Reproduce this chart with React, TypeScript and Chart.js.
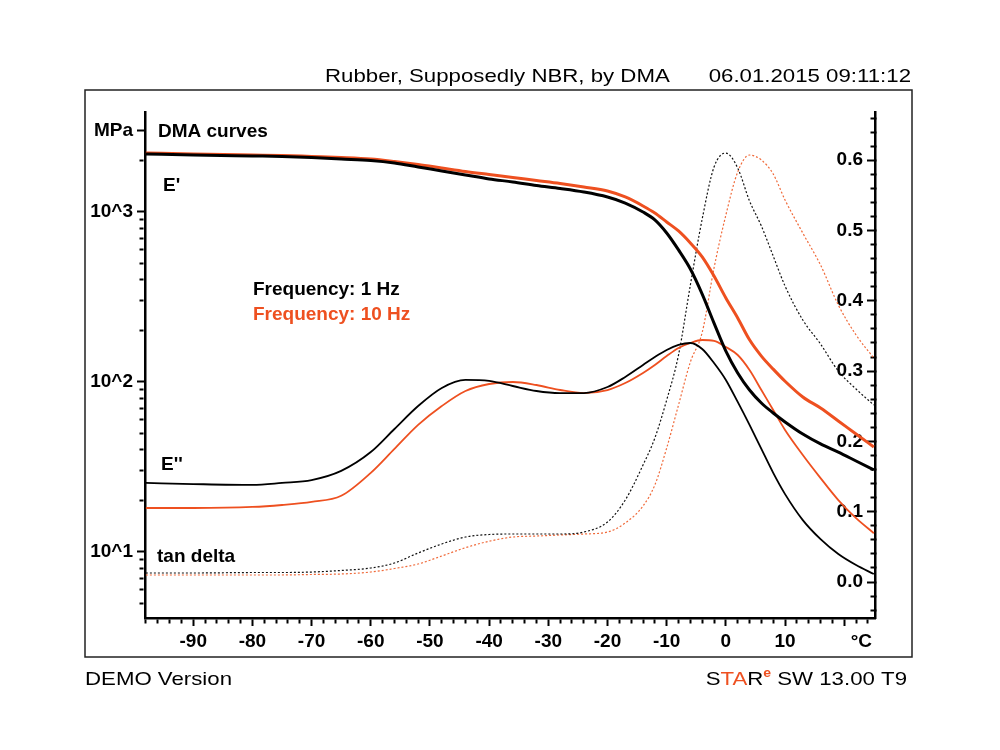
import React, { useEffect, useRef } from "react";
import { Chart, registerables } from "chart.js";

Chart.register(...registerables);

// ---------------- data ----------------
const temperatures = [
  -98, -90, -80, -75, -70, -65, -60, -56, -52, -48,
  -44, -40, -36, -32, -28, -24, -20, -17, -14, -12,
  -10, -8, -6, -4, -2, 0, 2, 4, 6, 8,
  10, 13, 16, 19, 22, 25,
];

// E' (MPa)
const eStorage1Hz = [
  2194, 2164, 2135, 2121, 2092, 2050, 2009, 1942, 1839, 1743,
  1651, 1564, 1502, 1432, 1375, 1311, 1225, 1129, 1000, 898,
  752, 598, 462, 329, 222, 152, 113, 89.7, 75.2, 65.7,
  58.2, 49.4, 43.2, 38.7, 34.3, 30.4,
];
const eStorage10Hz = [
  2224, 2194, 2164, 2150, 2121, 2092, 2050, 1982, 1903, 1815,
  1731, 1662, 1596, 1532, 1471, 1403, 1329, 1225, 1085, 986,
  873, 773, 657, 544, 420, 312, 238, 177, 142, 119,
  101, 81.6, 70.3, 59.0, 49.4, 41.5,
];

// E'' (MPa)
const eLoss1Hz = [
  25.5, 25.1, 24.8, 25.5, 26.5, 30.0, 38.7, 52.9, 72.2, 92.2,
  102.8, 101.4, 94.7, 88.5, 86.1, 86.1, 93.4, 107, 125.9, 140.3,
  154.3, 165.1, 169.6, 156.4, 129.3, 102.8, 76.3, 55.9, 40.4, 29.2,
  21.9, 15.4, 11.9, 9.73, 8.38, 7.42,
];
const eLoss10Hz = [
  18.15, 18.15, 18.4, 18.9, 19.7, 21.4, 29.2, 40.4, 55.9, 72.2,
  88.5, 97.3, 100, 96.0, 89.7, 86.1, 89.7, 98.6, 113, 125.9,
  142.2, 158.5, 169.6, 176.6, 174.3, 160.6, 144.1, 117.6, 89.7, 68.4,
  52.2, 37.2, 27.2, 20.2, 15.8, 12.9,
];

// tan delta
const tanDelta1Hz = [
  0.0128, 0.0128, 0.0135, 0.0135, 0.0142, 0.0164, 0.0199, 0.027, 0.0413, 0.0541,
  0.064, 0.0676, 0.0683, 0.0683, 0.0683, 0.0711, 0.0853, 0.1166, 0.1664, 0.2048,
  0.2589, 0.3229, 0.4225, 0.5164, 0.5903, 0.6102, 0.5889, 0.542, 0.5064, 0.4637,
  0.4211, 0.3727, 0.3385, 0.3001, 0.2745, 0.2518,
];
const tanDelta10Hz = [
  0.01, 0.01, 0.01, 0.01, 0.0107, 0.0114, 0.0142, 0.0192, 0.0256, 0.037,
  0.0488, 0.058, 0.064, 0.0654, 0.0669, 0.0683, 0.0711, 0.0839, 0.1081, 0.138,
  0.1906, 0.2518, 0.3129, 0.355, 0.4467, 0.522, 0.5832, 0.6074, 0.6003, 0.5804,
  0.5434, 0.4964, 0.4509, 0.394, 0.3514, 0.3186,
];

// ---------------- axes ----------------
const xLabelTicks = [-90, -80, -70, -60, -50, -40, -30, -20, -10, 0, 10];
const xMajorTicks = [-90, -80, -70, -60, -50, -40, -30, -20, -10, 0, 10, 20];
const xTickValues = [
  -98, -96, -94, -92, -90, -88, -86, -84, -82, -80, -78, -76, -74, -72, -70,
  -68, -66, -64, -62, -60, -58, -56, -54, -52, -50, -48, -46, -44, -42, -40,
  -38, -36, -34, -32, -30, -28, -26, -24, -22, -20, -18, -16, -14, -12, -10,
  -8, -6, -4, -2, 0, 2, 4, 6, 8, 10, 12, 14, 16, 18, 20, 22, 24,
];
const leftTickValues = [
  5, 6, 7, 8, 9, 10, 20, 30, 40, 50, 60, 70, 80, 90,
  100, 200, 300, 400, 500, 600, 700, 800, 900, 1000, 2000, 3000,
];
const leftMajorTicks = [10, 100, 1000, 3000];
const leftTickLabels: Record<number, string> = { 10: "10^1", 100: "10^2", 1000: "10^3", 3000: "MPa" };
const rightTickValues = [
  -0.04, -0.02, 0, 0.02, 0.04, 0.06, 0.08, 0.1, 0.12, 0.14, 0.16, 0.18, 0.2,
  0.22, 0.24, 0.26, 0.28, 0.3, 0.32, 0.34, 0.36, 0.38, 0.4, 0.42, 0.44, 0.46,
  0.48, 0.5, 0.52, 0.54, 0.56, 0.58, 0.6, 0.62, 0.64, 0.66,
];
const rightLabelTicks = [0, 0.1, 0.2, 0.3, 0.4, 0.5, 0.6];

const BLACK = "#000000";
const ORANGE = "#ee5020";
const FONT = "'Liberation Sans', Arial, Helvetica, sans-serif";
const STRETCH = 1.17;

function drawStretched(
  ctx: CanvasRenderingContext2D,
  text: string,
  x: number,
  y: number,
  font: string,
  color: string,
  sx: number,
  align: "left" | "right" = "left"
) {
  ctx.save();
  ctx.font = font;
  ctx.fillStyle = color;
  ctx.textBaseline = "alphabetic";
  ctx.textAlign = "left";
  const w = ctx.measureText(text).width * sx;
  const left = align === "right" ? x - w : x;
  ctx.translate(left, y);
  ctx.scale(sx, 1);
  ctx.fillText(text, 0, 0);
  ctx.restore();
  return w;
}

function measureStretched(ctx: CanvasRenderingContext2D, text: string, font: string, sx: number) {
  ctx.save();
  ctx.font = font;
  const w = ctx.measureText(text).width * sx;
  ctx.restore();
  return w;
}

const overlayPlugin = {
  id: "dmaOverlay",
  afterDraw(chart: any) {
    const ctx: CanvasRenderingContext2D = chart.ctx;
    ctx.save();
    ctx.strokeStyle = "#222";
    ctx.lineWidth = 1.5;
    ctx.strokeRect(85, 90, 827, 567);

    const reg = `19px ${FONT}`;
    const bold = `bold 19px ${FONT}`;

    drawStretched(ctx, "Rubber, Supposedly NBR, by DMA", 325, 82, reg, BLACK, STRETCH);
    drawStretched(ctx, "06.01.2015 09:11:12", 911, 82, reg, BLACK, STRETCH, "right");

    drawStretched(ctx, "DEMO Version", 85, 685, reg, BLACK, STRETCH);
    const parts: [string, string, string, number][] = [
      ["S", BLACK, reg, 0],
      ["TA", ORANGE, reg, 0],
      ["R", BLACK, reg, 0],
      ["e", ORANGE, `bold 12px ${FONT}`, -8],
      [" SW 13.00 T9", BLACK, reg, 0],
    ];
    let total = 0;
    for (const p of parts) total += measureStretched(ctx, p[0], p[2], STRETCH);
    let px = 907 - total;
    for (const p of parts) {
      px += drawStretched(ctx, p[0], px, 685 + p[3], p[2], p[1], STRETCH);
    }

    ctx.font = bold;
    ctx.textBaseline = "alphabetic";
    ctx.textAlign = "left";
    ctx.fillStyle = BLACK;
    ctx.fillText("DMA curves", 158, 137);
    ctx.fillText("E'", 163, 191);
    ctx.fillText("Frequency: 1 Hz", 253, 295);
    ctx.fillText("E''", 161, 470);
    ctx.fillText("tan delta", 157, 562);
    ctx.fillStyle = ORANGE;
    ctx.fillText("Frequency: 10 Hz", 253, 320);

    ctx.fillStyle = BLACK;
    ctx.textAlign = "right";
    ctx.fillText("°C", 872, 647);
    ctx.restore();
  },
};

export default function App() {
  const canvasRef = useRef<HTMLCanvasElement | null>(null);

  useEffect(() => {
    const canvas = canvasRef.current;
    if (!canvas) return;
    const pts = (ys: number[]) => temperatures.map((t, i) => ({ x: t, y: ys[i] }));
    const tickFont = { family: FONT, size: 19, weight: "bold" as const };

    const chart = new Chart(canvas, {
      type: "line",
      data: {
        datasets: [
          { label: "E' 1 Hz", data: pts(eStorage1Hz), yAxisID: "y", borderColor: BLACK, borderWidth: 3 },
          { label: "E' 10 Hz", data: pts(eStorage10Hz), yAxisID: "y", borderColor: ORANGE, borderWidth: 3 },
          { label: "E'' 1 Hz", data: pts(eLoss1Hz), yAxisID: "y", borderColor: BLACK, borderWidth: 1.8 },
          { label: "E'' 10 Hz", data: pts(eLoss10Hz), yAxisID: "y", borderColor: ORANGE, borderWidth: 1.8 },
          { label: "tan delta 1 Hz", data: pts(tanDelta1Hz), yAxisID: "y1", borderColor: "#111111", borderWidth: 1.2, borderDash: [2, 2] },
          { label: "tan delta 10 Hz", data: pts(tanDelta10Hz), yAxisID: "y1", borderColor: "#f06a3a", borderWidth: 1.2, borderDash: [2, 2] },
        ],
      },
      options: {
        animation: false,
        responsive: false,
        maintainAspectRatio: false,
        elements: {
          point: { radius: 0 },
          line: { cubicInterpolationMode: "monotone", fill: false },
        },
        layout: { padding: { top: 112, left: 0, right: 0, bottom: 0 } },
        plugins: { legend: { display: false }, tooltip: { enabled: false } },
        scales: {
          x: {
            type: "linear",
            bounds: "data",
            min: -98.15,
            max: 25.2,
            afterBuildTicks: (axis: any) => {
              axis.ticks = xTickValues.map((v) => ({ value: v }));
            },
            afterFit: (axis: any) => {
              axis.height = 132;
            },
            border: { display: true, color: BLACK, width: 2.5 },
            grid: {
              drawOnChartArea: false,
              drawTicks: true,
              tickLength: 8,
              tickColor: BLACK,
              tickWidth: 2,
              tickBorderDash: (c: any) => (c.tick && xMajorTicks.includes(c.tick.value) ? [] : [4, 100]),
            },
            ticks: {
              autoSkip: false,
              maxRotation: 0,
              minRotation: 0,
              padding: 4,
              color: BLACK,
              font: tickFont,
              callback: (v: any) => (xLabelTicks.includes(Number(v)) ? String(v) : ""),
            },
          },
          y: {
            type: "logarithmic",
            position: "left",
            bounds: "data",
            min: 4.09,
            max: 3873,
            afterBuildTicks: (axis: any) => {
              axis.ticks = leftTickValues.map((v) => ({ value: v }));
            },
            afterFit: (axis: any) => {
              axis.width = 145;
            },
            border: { display: true, color: BLACK, width: 2.5 },
            grid: {
              drawOnChartArea: false,
              drawTicks: true,
              tickLength: 8,
              tickColor: BLACK,
              tickWidth: 2,
              tickBorderDash: (c: any) =>
                c.tick && leftMajorTicks.includes(c.tick.value) ? [] : [0, 2.5, 4, 100],
            },
            ticks: {
              autoSkip: false,
              padding: 4,
              color: BLACK,
              font: tickFont,
              callback: (v: any) => leftTickLabels[Number(v)] || "",
            },
          },
          y1: {
            type: "linear",
            position: "right",
            bounds: "data",
            min: -0.0512,
            max: 0.6686,
            afterBuildTicks: (axis: any) => {
              axis.ticks = rightTickValues.map((v) => ({ value: v }));
            },
            afterFit: (axis: any) => {
              axis.width = 125;
            },
            border: { display: true, color: BLACK, width: 2.5 },
            grid: {
              drawOnChartArea: false,
              drawTicks: true,
              tickLength: -8,
              tickColor: BLACK,
              tickWidth: 2,
              tickBorderDash: (c: any) =>
                c.tick && rightLabelTicks.includes(c.tick.value) ? [] : [6, 100],
            },
            ticks: {
              autoSkip: false,
              mirror: true,
              padding: -12,
              color: BLACK,
              font: tickFont,
              callback: (v: any) => (rightLabelTicks.includes(Number(v)) ? Number(v).toFixed(1) : ""),
            },
          },
        },
      },
      plugins: [overlayPlugin],
    } as any);

    return () => chart.destroy();
  }, []);

  return (
    <div style={{ position: "absolute", left: 0, top: 0, width: 1000, height: 750, background: "#ffffff" }}>
      <canvas ref={canvasRef} width={1000} height={750} style={{ display: "block" }} />
    </div>
  );
}
